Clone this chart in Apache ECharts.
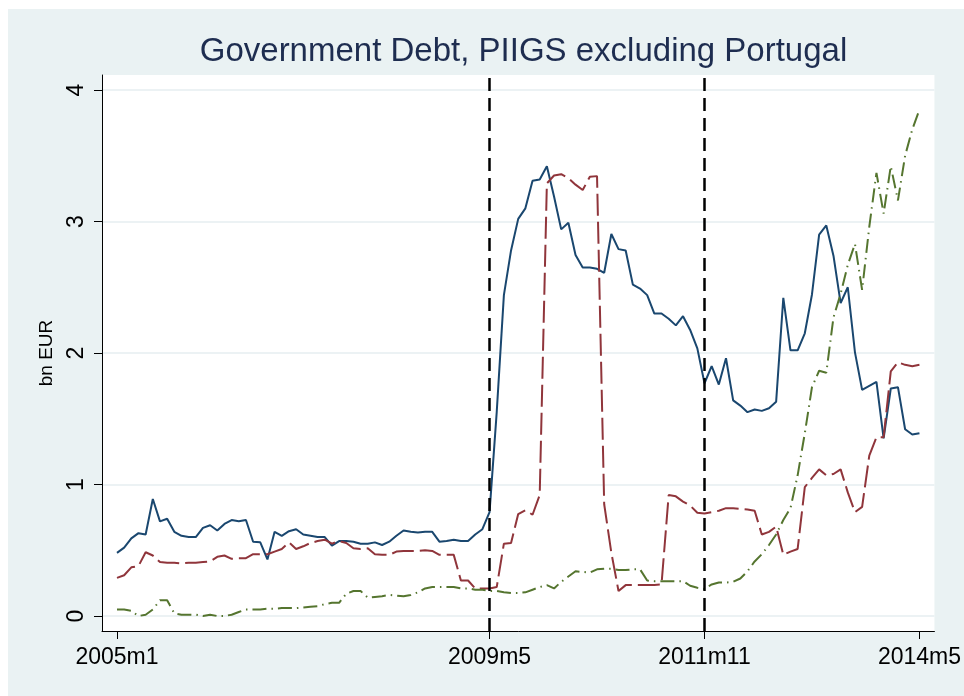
<!DOCTYPE html>
<html><head><meta charset="utf-8">
<script src="https://cdn.jsdelivr.net/npm/echarts@6/dist/echarts.min.js"></script>
<style>html,body{margin:0;padding:0;background:#fff}#c{width:964px;height:696px}</style>
</head><body><div id="c"></div>
<script>
// Monthly data, 2005m1 .. 2014m5 (index 0 .. 112), bn EUR
const blueDebt = [
0.48,0.52,0.59,0.63,0.62,0.89,0.72,0.74,0.64,0.61,0.60,0.60,
0.67,0.69,0.65,0.70,0.73,0.72,0.73,0.565,0.56,0.43,0.64,0.61,
0.645,0.66,0.62,0.61,0.60,0.60,0.535,0.57,0.57,0.565,0.55,0.55,
0.56,0.54,0.565,0.61,0.65,0.64,0.635,0.64,0.64,0.565,0.57,0.58,
0.57,0.57,0.62,0.66,0.79,1.55,2.44,2.78,3.02,3.10,3.31,3.32,
3.42,3.19,2.94,2.99,2.745,2.65,2.65,2.64,2.61,2.905,2.79,2.78,
2.52,2.49,2.44,2.30,2.30,2.26,2.21,2.28,2.175,2.035,1.77,1.90,
1.76,1.96,1.64,1.60,1.55,1.57,1.56,1.58,1.63,2.42,2.02,2.02,
2.15,2.445,2.90,2.97,2.74,2.38,2.50,2.005,1.72,1.75,1.78,1.35,
1.73,1.74,1.42,1.38,1.39];
const redDebt = [
0.29,0.31,0.37,0.38,0.485,0.46,0.41,0.405,0.405,0.40,0.405,0.405,
0.41,0.415,0.45,0.46,0.435,0.44,0.44,0.47,0.47,0.47,0.49,0.51,
0.56,0.51,0.53,0.555,0.57,0.58,0.55,0.57,0.555,0.515,0.51,0.515,
0.47,0.465,0.465,0.49,0.495,0.495,0.495,0.50,0.495,0.465,0.465,0.465,
0.27,0.27,0.21,0.21,0.21,0.22,0.55,0.555,0.775,0.805,0.77,0.92,
3.29,3.35,3.36,3.33,3.28,3.24,3.34,3.345,0.85,0.48,0.19,0.235,
0.235,0.235,0.235,0.235,0.24,0.92,0.91,0.87,0.84,0.785,0.78,0.79,
0.80,0.82,0.82,0.815,0.81,0.80,0.62,0.64,0.68,0.465,0.49,0.51,
0.98,1.05,1.115,1.07,1.08,1.115,0.94,0.79,0.83,1.22,1.36,1.36,
1.86,1.93,1.91,1.90,1.91];
const greenDebt = [
0.05,0.05,0.04,0.0,0.01,0.05,0.12,0.12,0.02,0.01,0.01,0.01,
0.0,0.01,0.0,0.0,0.01,0.03,0.05,0.05,0.05,0.055,0.055,0.06,
0.06,0.06,0.065,0.07,0.075,0.09,0.10,0.10,0.17,0.19,0.19,0.14,
0.145,0.15,0.16,0.155,0.15,0.16,0.18,0.21,0.22,0.22,0.22,0.22,
0.21,0.21,0.20,0.20,0.19,0.19,0.18,0.175,0.175,0.18,0.20,0.22,
0.235,0.21,0.26,0.30,0.34,0.335,0.33,0.355,0.36,0.36,0.35,0.35,
0.355,0.355,0.27,0.265,0.265,0.265,0.265,0.265,0.23,0.215,0.205,0.24,
0.255,0.255,0.26,0.285,0.34,0.415,0.47,0.54,0.62,0.73,0.82,1.07,
1.39,1.74,1.865,1.85,2.27,2.45,2.67,2.83,2.48,2.96,3.37,3.06,
3.42,3.16,3.50,3.70,3.85];

const xTickMonths = [0, 52, 82, 112];
const xTickLabels = ['2005m1', '2009m5', '2011m11', '2014m5'];
const yTickValues = [0, 1, 2, 3, 4];
const eventMonths = [52, 82];

const toPairs = arr => arr.map((v, i) => [i, v]);
const FONT = 'Liberation Sans, Arial, Helvetica, sans-serif';

const chart = echarts.init(document.getElementById('c'), null, {renderer: 'canvas'});
chart.setOption({
  animation: false,
  backgroundColor: '#EAF2F3',
  graphic: [
    {type: 'rect', shape: {x: 0, y: 0, width: 964, height: 9}, style: {fill: '#fff'}, silent: true},
    {type: 'rect', shape: {x: 0, y: 0, width: 8, height: 696}, style: {fill: '#fff'}, silent: true}
  ],
  title: {
    text: 'Government Debt, PIIGS excluding Portugal',
    left: 518.5, top: 30, textAlign: 'center',
    textStyle: {fontFamily: FONT, fontSize: 33, fontWeight: 'normal', color: '#1E2D50'}
  },
  grid: {left: 102, right: 29, top: 75, bottom: 65, show: true, backgroundColor: '#fff', borderWidth: 0},
  xAxis: {
    type: 'value', min: -2.092, max: 114.092,
    axisLine: {show: true, onZero: false, lineStyle: {color: '#000', width: 1}},
    axisTick: {show: true, customValues: xTickMonths, length: 8, lineStyle: {color: '#000', width: 1}},
    axisLabel: {
      customValues: xTickMonths,
      formatter: v => xTickLabels[xTickMonths.indexOf(v)],
      fontFamily: FONT, fontSize: 23, color: '#000', margin: 15
    },
    splitLine: {show: false}
  },
  yAxis: {
    type: 'value', min: -0.114, max: 4.114,
    name: 'bn EUR', nameLocation: 'middle', nameGap: 46, nameRotate: 90,
    nameTextStyle: {fontFamily: FONT, fontSize: 19, color: '#000'},
    axisLine: {show: true, onZero: false, lineStyle: {color: '#000', width: 1}},
    axisTick: {show: true, customValues: yTickValues, length: 8, lineStyle: {color: '#000', width: 1}},
    axisLabel: {customValues: yTickValues, rotate: 90, fontFamily: FONT, fontSize: 23, color: '#000', margin: 14},
    splitLine: {show: true, lineStyle: {color: '#E6EEF1', width: 1.6}}
  },
  series: [
    {
      type: 'line', data: toPairs(blueDebt), showSymbol: false, symbol: 'none',
      lineStyle: {color: '#1A476F', width: 2},
      markLine: {
        silent: true, symbol: 'none', label: {show: false},
        lineStyle: {color: '#000', width: 2.5, type: [13, 7]},
        data: eventMonths.map(m => ({xAxis: m}))
      }
    },
    {type: 'line', data: toPairs(redDebt), showSymbol: false, symbol: 'none',
      lineStyle: {color: '#90353B', width: 2, type: [22, 6]}},
    {type: 'line', data: toPairs(greenDebt), showSymbol: false, symbol: 'none',
      lineStyle: {color: '#55752F', width: 2, type: [14, 5, 1.5, 5]}}
  ]
});
</script></body></html>
